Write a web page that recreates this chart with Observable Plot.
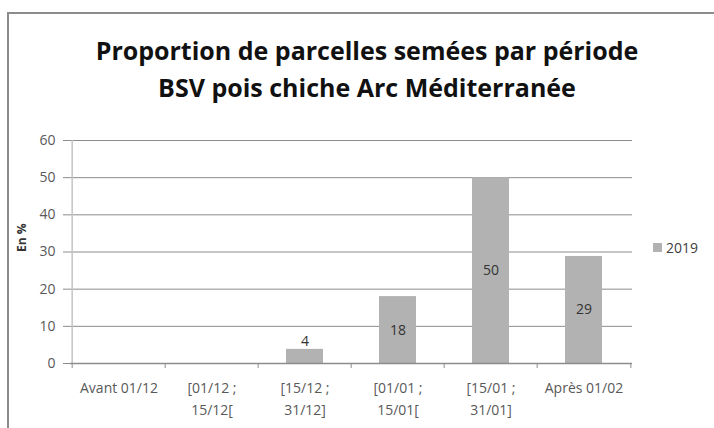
<!DOCTYPE html>
<html>
<head>
<meta charset="utf-8">
<script src="https://cdn.jsdelivr.net/npm/d3@7"></script>
<script src="https://cdn.jsdelivr.net/npm/@observablehq/plot@0.6"></script>
<style>
  html, body { margin: 0; padding: 0; background: #fff; }
  #chart { position: relative; width: 714px; height: 428px; overflow: hidden; background: #fff; font-family: "Open Sans", sans-serif; }
  #frame { position: absolute; left: 7px; top: 12px; width: 720px; height: 430px; border-left: 2px solid #8c8c8c; border-top: 2px solid #8c8c8c; box-sizing: border-box; }
  #title { position: absolute; left: 0; top: 32px; width: 734px; text-align: center; font-weight: bold; font-size: 25px; line-height: 37px; color: #111; }
  #plot { position: absolute; left: 0; top: 125px; }
  #legend { position: absolute; left: 653px; top: 238px; font-size: 14px; color: #404040; display: flex; align-items: center; }
  #legend .sw { width: 9px; height: 9px; background: #b2b2b2; margin-right: 4px; }
</style>
</head>
<body>
<div id="chart">
  <div id="frame"></div>
  <div id="title">Proportion de parcelles semées par période<br>BSV pois chiche Arc Méditerranée</div>
  <div id="plot"></div>
  <div id="legend"><div class="sw"></div><span id="legtext"></span></div>
</div>
<script>
const categories = ["Avant 01/12", "[01/12 ;\n15/12[", "[15/12 ;\n31/12]", "[01/01 ;\n15/01[", "[15/01 ;\n31/01]", "Après 01/02"];
const values2019 = [0, 0, 3.8, 18, 50, 28.8];
const seriesName = "2019";
const yTicks = [0, 10, 20, 30, 40, 50, 60];

const W = 714, H = 303, mL = 70, mR = 82, mT = 15, mB = 65;
const step = (W - mL - mR) / categories.length;
const pxPerUnit = (H - mT - mB) / 60;
const tickLen = 5 / pxPerUnit;
const data = categories.map((c, i) => ({cat: c, v: values2019[i]}));
const nonZero = data.filter(d => d.v > 0);
const small = nonZero.filter(d => d.v < 8);
const big = nonZero.filter(d => d.v >= 8);

document.getElementById("legtext").textContent = seriesName;

const chart = Plot.plot({
  width: W, height: H,
  marginLeft: mL, marginRight: mR, marginTop: mT, marginBottom: mB,
  style: {fontFamily: "'Open Sans', sans-serif", background: "transparent"},
  x: {type: "band", domain: categories, padding: 0},
  y: {type: "linear", domain: [0, 60]},
  marks: [
    Plot.ruleY(yTicks.filter(t => t > 0), {stroke: "#8c8c8c", strokeWidth: 1, strokeOpacity: 1}),
    Plot.ruleX([categories[0]], {x: d => d, dx: -step / 2, y1: () => 0, y2: () => 60, stroke: "#c4c4c4", strokeWidth: 1.5}),
    Plot.barY(data, {x: "cat", y: "v", fill: "#b2b2b2", insetLeft: 28, insetRight: 28}),
    Plot.ruleY([0], {stroke: "#8c8c8c", strokeWidth: 1.5}),
    Plot.ruleX(categories, {x: d => d, dx: -step / 2, y1: () => 0, y2: () => -tickLen, stroke: "#8c8c8c"}),
    Plot.ruleX([categories[categories.length - 1]], {x: d => d, dx: step / 2, y1: () => 0, y2: () => -tickLen, stroke: "#8c8c8c"}),
    Plot.axisY({ticks: yTicks, tickSize: 7, tickPadding: 8, stroke: "#8c8c8c", color: "#595959", fontSize: 14, label: null}),
    Plot.axisX({tickSize: 0, tickPadding: 14, color: "#595959", fontSize: 14, lineHeight: 1.55, label: null, textAnchor: "middle"}),
    Plot.text(big, {x: "cat", y: d => d.v / 2, text: d => d3.format(".0f")(d.v), fill: "#333", fontSize: 14}),
    Plot.text(small, {x: "cat", y: "v", text: d => d3.format(".0f")(d.v), dy: -8, fill: "#333", fontSize: 14}),
    Plot.text(["En %"], {frameAnchor: "left", dx: -48, rotate: -90, fontWeight: "bold", fontSize: 12, fill: "#333"})
  ]
});
document.getElementById("plot").appendChild(chart);
</script>
</body>
</html>
